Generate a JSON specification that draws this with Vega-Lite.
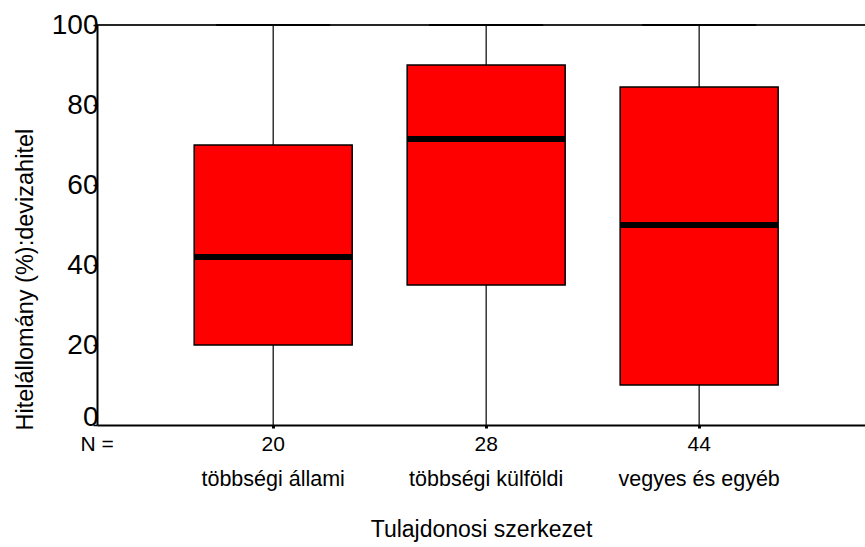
{
  "$schema": "https://vega.github.io/schema/vega-lite/v6.json",
  "width": 768,
  "height": 400,
  "autosize": {"type": "none"},
  "padding": {"left": 97, "top": 25, "right": 0, "bottom": 122},
  "background": "white",
  "config": {
    "view": {"stroke": null},
    "font": "Liberation Sans",
    "axis": {"labelColor": "black", "titleColor": "black", "titleFontWeight": "normal", "grid": false}
  },
  "data": {
    "values": [
      {"group": "többségi állami", "n": 20, "lower": 0, "q1": 20, "median": 42, "q3": 70, "upper": 100},
      {"group": "többségi külföldi", "n": 28, "lower": 0, "q1": 35, "median": 71.5, "q3": 90, "upper": 100},
      {"group": "vegyes és egyéb", "n": 44, "lower": 0, "q1": 10, "median": 50, "q3": 84.5, "upper": 100}
    ]
  },
  "resolve": {"scale": {"x": "independent"}},
  "layer": [
    {
      "mark": {"type": "rule", "color": "black", "strokeWidth": 1.2},
      "encoding": {
        "x": {
          "field": "n",
          "type": "ordinal",
          "sort": "ascending",
          "scale": {"paddingInner": 0, "paddingOuter": 0.303, "align": 0.54},
          "axis": {
            "orient": "bottom",
            "labelAngle": 0,
            "labelFontSize": 21,
            "labelPadding": 5,
            "tickSize": 3,
            "tickWidth": 3,
            "tickColor": "black",
            "domainColor": "black",
            "domainWidth": 2,
            "title": "N =",
            "titleFontSize": 21,
            "titleAlign": "left",
            "titleBaseline": "top",
            "titleX": -17,
            "titleY": 8,
            "zindex": 1
          }
        },
        "y": {
          "field": "lower",
          "type": "quantitative",
          "scale": {"domain": [0, 100], "nice": false, "zero": true},
          "axis": {
            "values": [0, 10, 20, 30, 40, 50, 60, 70, 80, 90, 100],
            "labelExpr": "datum.value % 20 == 0 ? datum.label : ''",
            "labelFontSize": 28,
            "labelPadding": -5,
            "labelBaseline": {"condition": {"test": "datum.value == 0", "value": "alphabetic"}, "value": "middle"},
            "tickSize": 4,
            "tickWidth": 1.5,
            "tickColor": "black",
            "domainColor": "black",
            "domainWidth": 2,
            "title": "Hitelállomány (%):devizahitel",
            "titleFontSize": 23.5,
            "titleAngle": -90,
            "titleAlign": "left",
            "titleBaseline": "middle",
            "titleX": -72,
            "titleY": 405,
            "zindex": 1
          }
        },
        "y2": {"field": "upper"}
      }
    },
    {
      "encoding": {
        "x": {
          "field": "group",
          "type": "nominal",
          "sort": null,
          "scale": {"paddingInner": 0, "paddingOuter": 0.303, "align": 0.54},
          "axis": {
            "orient": "bottom",
            "labelAngle": 0,
            "labelFontSize": 21.5,
            "labelPadding": 43,
            "tickSize": 0,
            "domain": false,
            "labelOverlap": false,
            "title": "Tulajdonosi szerkezet",
            "titleFontSize": 23,
            "titlePadding": 29
          }
        }
      },
      "layer": [
        {
          "mark": {"type": "rule", "color": "#222222", "strokeWidth": 1.3},
          "encoding": {"y": {"datum": 100}, "x": null}
        },
        {
          "mark": {"type": "tick", "color": "black", "size": 114, "thickness": 2, "opacity": 1},
          "encoding": {"y": {"field": "upper", "type": "quantitative"}}
        },
        {
          "mark": {"type": "bar", "size": 158, "fill": "#ff0000", "stroke": "black", "strokeWidth": 1.5},
          "encoding": {
            "y": {"field": "q1", "type": "quantitative"},
            "y2": {"field": "q3"}
          }
        },
        {
          "mark": {"type": "tick", "color": "black", "size": 158, "thickness": 6, "opacity": 1},
          "encoding": {"y": {"field": "median", "type": "quantitative"}}
        }
      ]
    }
  ]
}
